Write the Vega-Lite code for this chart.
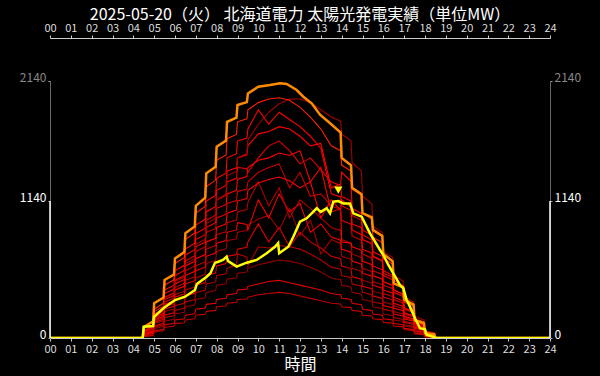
{
  "$schema": "https://vega.github.io/schema/vega-lite/v6.json",
  "width": 500,
  "height": 257,
  "autosize": "none",
  "padding": {"left": 50, "top": 81, "right": 50, "bottom": 38},
  "background": "black",
  "config": {"view": {"stroke": null}, "font": "Noto Sans CJK JP"},
  "title": {"text": "2025-05-20（火） 北海道電力 太陽光発電実績（単位MW）", "color": "white", "fontSize": 16, "fontWeight": "normal", "anchor": "middle", "offset": -1},
  "datasets": {
    "past": [
      {"t":0,"d19":0,"d18":0,"d17":0,"d16":0,"d15":0,"d14":0,"d13":0,"d12":0,"d11":0,"d10":0,"d09":0,"d08":0,"d07":0,"d06":0,"d05":0,"d04":0},
      {"t":4.45,"d19":0,"d18":0,"d17":0,"d16":0,"d15":0,"d14":0,"d13":0,"d12":0,"d11":0,"d10":0,"d09":0,"d08":0,"d07":0,"d06":0,"d05":0,"d04":0},
      {"t":4.5,"d19":60,"d18":40,"d17":50,"d16":45,"d15":40,"d14":40,"d13":35,"d12":30,"d11":30,"d10":25,"d09":25,"d08":20,"d07":20,"d06":15,"d05":12,"d04":10},
      {"t":4.95,"d19":105,"d18":75,"d17":92,"d16":84,"d15":77,"d14":72,"d13":66,"d12":60,"d11":57,"d10":51,"d09":49,"d08":40,"d07":37,"d06":31,"d05":24,"d04":20},
      {"t":5,"d19":240,"d18":180,"d17":220,"d16":200,"d15":190,"d14":170,"d13":160,"d12":150,"d11":140,"d10":130,"d09":120,"d08":100,"d07":90,"d06":80,"d05":60,"d04":50},
      {"t":5.45,"d19":290,"d18":217,"d17":265,"d16":242,"d15":227,"d14":207,"d13":195,"d12":182,"d11":170,"d10":157,"d09":145,"d08":122,"d07":110,"d06":95,"d05":72,"d04":60},
      {"t":5.5,"d19":440,"d18":330,"d17":400,"d16":370,"d15":340,"d14":320,"d13":300,"d12":280,"d11":260,"d10":240,"d09":220,"d08":190,"d07":170,"d06":140,"d05":110,"d04":90},
      {"t":5.95,"d19":485,"d18":365,"d17":440,"d16":407,"d15":375,"d14":352,"d13":330,"d12":310,"d11":285,"d10":265,"d09":242,"d08":210,"d07":185,"d06":155,"d05":120,"d04":97},
      {"t":6,"d19":620,"d18":470,"d17":560,"d16":520,"d15":480,"d14":450,"d13":420,"d12":400,"d11":360,"d10":340,"d09":310,"d08":270,"d07":230,"d06":200,"d05":150,"d04":120},
      {"t":6.45,"d19":670,"d18":507,"d17":605,"d16":562,"d15":520,"d14":487,"d13":455,"d12":430,"d11":390,"d10":367,"d09":332,"d08":290,"d07":247,"d06":215,"d05":160,"d04":127},
      {"t":6.5,"d19":820,"d18":620,"d17":740,"d16":690,"d15":640,"d14":600,"d13":560,"d12":520,"d11":480,"d10":450,"d09":400,"d08":350,"d07":300,"d06":260,"d05":190,"d04":150},
      {"t":6.95,"d19":875,"d18":660,"d17":790,"d16":735,"d15":685,"d14":640,"d13":600,"d12":555,"d11":510,"d10":477,"d09":425,"d08":372,"d07":320,"d06":275,"d05":202,"d04":160},
      {"t":7,"d19":1040,"d18":780,"d17":940,"d16":870,"d15":820,"d14":760,"d13":720,"d12":660,"d11":600,"d10":560,"d09":500,"d08":440,"d07":380,"d06":320,"d05":240,"d04":190},
      {"t":7.45,"d19":1095,"d18":822,"d17":990,"d16":915,"d15":860,"d14":800,"d13":760,"d12":695,"d11":635,"d10":590,"d09":530,"d08":460,"d07":397,"d06":335,"d05":250,"d04":197},
      {"t":7.5,"d19":1260,"d18":950,"d17":1140,"d16":1050,"d15":980,"d14":920,"d13":880,"d12":800,"d11":740,"d10":680,"d09":620,"d08":520,"d07":450,"d06":380,"d05":280,"d04":220},
      {"t":7.95,"d19":1315,"d18":1000,"d17":1187,"d16":1095,"d15":1022,"d14":960,"d13":910,"d12":830,"d11":770,"d10":707,"d09":645,"d08":540,"d07":467,"d06":395,"d05":290,"d04":230},
      {"t":8,"d19":1480,"d18":1150,"d17":1330,"d16":1230,"d15":1150,"d14":1080,"d13":1000,"d12":920,"d11":860,"d10":790,"d09":720,"d08":600,"d07":520,"d06":440,"d05":320,"d04":260},
      {"t":8.45,"d19":1525,"d18":1200,"d17":1372,"d16":1270,"d15":1187,"d14":1110,"d13":1030,"d12":950,"d11":885,"d10":812,"d09":742,"d08":620,"d07":535,"d06":452,"d05":330,"d04":267},
      {"t":8.5,"d19":1660,"d18":1350,"d17":1500,"d16":1390,"d15":1300,"d14":1200,"d13":1120,"d12":1040,"d11":960,"d10":880,"d09":810,"d08":680,"d07":580,"d06":490,"d05":360,"d04":290},
      {"t":8.95,"d19":1695,"d18":1387,"d17":1535,"d16":1417,"d15":1330,"d14":1230,"d13":1145,"d12":1065,"d11":982,"d10":900,"d09":827,"d08":695,"d07":610,"d06":502,"d05":370,"d04":297},
      {"t":9,"d19":1800,"d18":1500,"d17":1640,"d16":1500,"d15":1420,"d14":1320,"d13":1220,"d12":1140,"d11":1050,"d10":960,"d09":880,"d08":740,"d07":700,"d06":540,"d05":400,"d04":320},
      {"t":9.45,"d19":1825,"d18":1537,"d17":1665,"d16":1525,"d15":1410,"d14":1345,"d13":1240,"d12":1162,"d11":1070,"d10":945,"d09":895,"d08":755,"d07":675,"d06":550,"d05":407,"d04":325},
      {"t":9.5,"d19":1900,"d18":1650,"d17":1740,"d16":1600,"d15":1380,"d14":1420,"d13":1300,"d12":1230,"d11":1130,"d10":900,"d09":940,"d08":800,"d07":600,"d06":580,"d05":430,"d04":340},
      {"t":10,"d19":1960,"d18":1780,"d17":1900,"d16":1700,"d15":1500,"d14":1480,"d13":1380,"d12":1290,"d11":1300,"d10":1150,"d09":990,"d08":950,"d07":760,"d06":610,"d05":450,"d04":360},
      {"t":10.5,"d19":1990,"d18":1880,"d17":1780,"d16":1720,"d15":1600,"d14":1500,"d13":1420,"d12":1320,"d11":1100,"d10":1000,"d09":1020,"d08":800,"d07":750,"d06":630,"d05":470,"d04":370},
      {"t":11,"d19":2000,"d18":1950,"d17":1880,"d16":1760,"d15":1640,"d14":1540,"d13":1450,"d12":1340,"d11":1250,"d10":1200,"d09":900,"d08":920,"d07":770,"d06":650,"d05":480,"d04":380},
      {"t":11.5,"d19":1980,"d18":1990,"d17":1820,"d16":1740,"d15":1560,"d14":1520,"d13":1250,"d12":1310,"d11":1000,"d10":1050,"d09":1080,"d08":760,"d07":760,"d06":640,"d05":460,"d04":370},
      {"t":12,"d19":1920,"d18":1990,"d17":1760,"d16":1680,"d15":1450,"d14":1560,"d13":1380,"d12":1250,"d11":1150,"d10":1120,"d09":850,"d08":880,"d07":740,"d06":620,"d05":440,"d04":350},
      {"t":12.5,"d19":1840,"d18":1960,"d17":1680,"d16":1600,"d15":1500,"d14":1300,"d13":1180,"d12":1300,"d11":1080,"d10":880,"d09":980,"d08":800,"d07":700,"d06":590,"d05":420,"d04":330},
      {"t":13,"d19":1740,"d18":1900,"d17":1580,"d16":1620,"d15":1400,"d14":1420,"d13":1200,"d12":1000,"d11":1000,"d10":950,"d09":700,"d08":750,"d07":650,"d06":550,"d05":400,"d04":310},
      {"t":13.5,"d19":1600,"d18":1840,"d17":1200,"d16":1250,"d15":1300,"d14":1050,"d13":1100,"d12":1150,"d11":920,"d10":840,"d09":820,"d08":680,"d07":590,"d06":500,"d05":370,"d04":290},
      {"t":13.95,"d19":1560,"d18":1805,"d17":1175,"d16":1282,"d15":1270,"d14":1075,"d13":1070,"d12":1063,"d11":895,"d10":815,"d09":785,"d08":660,"d07":573,"d06":485,"d05":360,"d04":283},
      {"t":14,"d19":1440,"d18":1700,"d17":1100,"d16":1380,"d15":1180,"d14":1150,"d13":980,"d12":800,"d11":820,"d10":740,"d09":680,"d08":600,"d07":520,"d06":440,"d05":330,"d04":260},
      {"t":14.45,"d19":1390,"d18":1640,"d17":1063,"d16":1305,"d15":1140,"d14":1088,"d13":948,"d12":790,"d11":790,"d10":715,"d09":655,"d08":578,"d07":503,"d06":425,"d05":320,"d04":253},
      {"t":14.5,"d19":1240,"d18":1460,"d17":950,"d16":1080,"d15":1020,"d14":900,"d13":850,"d12":760,"d11":700,"d10":640,"d09":580,"d08":510,"d07":450,"d06":380,"d05":290,"d04":230},
      {"t":14.95,"d19":1190,"d18":1390,"d17":918,"d16":1035,"d15":980,"d14":860,"d13":813,"d12":730,"d11":670,"d10":615,"d09":555,"d08":490,"d07":433,"d06":365,"d05":278,"d04":220},
      {"t":15,"d19":1040,"d18":1180,"d17":820,"d16":900,"d15":860,"d14":740,"d13":700,"d12":640,"d11":580,"d10":540,"d09":480,"d08":430,"d07":380,"d06":320,"d05":240,"d04":190},
      {"t":15.45,"d19":990,"d18":1118,"d17":785,"d16":855,"d15":815,"d14":705,"d13":665,"d12":610,"d11":553,"d10":515,"d09":458,"d08":410,"d07":360,"d06":305,"d05":230,"d04":183},
      {"t":15.5,"d19":840,"d18":930,"d17":680,"d16":720,"d15":680,"d14":600,"d13":560,"d12":520,"d11":470,"d10":440,"d09":390,"d08":350,"d07":300,"d06":260,"d05":200,"d04":160},
      {"t":15.95,"d19":795,"d18":878,"d17":645,"d16":680,"d15":640,"d14":568,"d13":530,"d12":490,"d11":445,"d10":415,"d09":368,"d08":330,"d07":285,"d06":245,"d05":190,"d04":153},
      {"t":16,"d19":660,"d18":720,"d17":540,"d16":560,"d15":520,"d14":470,"d13":440,"d12":400,"d11":370,"d10":340,"d09":300,"d08":270,"d07":240,"d06":200,"d05":160,"d04":130},
      {"t":16.45,"d19":615,"d18":670,"d17":505,"d16":520,"d15":485,"d14":438,"d13":410,"d12":373,"d11":345,"d10":318,"d09":280,"d08":253,"d07":223,"d06":188,"d05":150,"d04":123},
      {"t":16.5,"d19":480,"d18":520,"d17":400,"d16":400,"d15":380,"d14":340,"d13":320,"d12":290,"d11":270,"d10":250,"d09":220,"d08":200,"d07":170,"d06":150,"d05":120,"d04":100},
      {"t":16.95,"d19":435,"d18":475,"d17":363,"d16":363,"d15":345,"d14":308,"d13":290,"d12":263,"d11":245,"d10":228,"d09":200,"d08":183,"d07":155,"d06":138,"d05":110,"d04":93},
      {"t":17,"d19":300,"d18":340,"d17":250,"d16":250,"d15":240,"d14":210,"d13":200,"d12":180,"d11":170,"d10":160,"d09":140,"d08":130,"d07":110,"d06":100,"d05":80,"d04":70},
      {"t":17.45,"d19":265,"d18":300,"d17":220,"d16":220,"d15":210,"d14":185,"d13":175,"d12":158,"d11":150,"d10":140,"d09":123,"d08":113,"d07":96,"d06":88,"d05":70,"d04":61},
      {"t":17.5,"d19":160,"d18":180,"d17":130,"d16":130,"d15":120,"d14":110,"d13":100,"d12":90,"d11":90,"d10":80,"d09":70,"d08":60,"d07":55,"d06":50,"d05":40,"d04":35},
      {"t":17.95,"d19":133,"d18":150,"d17":108,"d16":108,"d15":99,"d14":90,"d13":83,"d12":74,"d11":74,"d10":65,"d09":58,"d08":49,"d07":45,"d06":41,"d05":33,"d04":28},
      {"t":18,"d19":50,"d18":60,"d17":40,"d16":40,"d15":35,"d14":30,"d13":30,"d12":25,"d11":25,"d10":20,"d09":20,"d08":15,"d07":15,"d06":12,"d05":10,"d04":8},
      {"t":18.45,"d19":38,"d18":45,"d17":30,"d16":30,"d15":26,"d14":23,"d13":23,"d12":19,"d11":19,"d10":15,"d09":15,"d08":11,"d07":11,"d06":9,"d05":8,"d04":6},
      {"t":18.5,"d19":0,"d18":0,"d17":0,"d16":0,"d15":0,"d14":0,"d13":0,"d12":0,"d11":0,"d10":0,"d09":0,"d08":0,"d07":0,"d06":0,"d05":0,"d04":0},
      {"t":24,"d19":0,"d18":0,"d17":0,"d16":0,"d15":0,"d14":0,"d13":0,"d12":0,"d11":0,"d10":0,"d09":0,"d08":0,"d07":0,"d06":0,"d05":0,"d04":0}
    ],
    "record": [
      {"t":0,"v":0},{"t":4.45,"v":0},{"t":4.5,"v":90},{"t":4.95,"v":140},{"t":5.0,"v":289},{"t":5.45,"v":337},{"t":5.5,"v":483},{"t":5.95,"v":528},{"t":6.0,"v":663},{"t":6.45,"v":715},{"t":6.5,"v":872},{"t":6.95,"v":929},{"t":7.0,"v":1100},{"t":7.45,"v":1168},{"t":7.5,"v":1371},{"t":7.95,"v":1426},{"t":8.0,"v":1593},{"t":8.45,"v":1645},{"t":8.5,"v":1800},{"t":8.95,"v":1835},{"t":9.0,"v":1940},{"t":9.45,"v":1964},{"t":9.5,"v":2037},{"t":10.0,"v":2093},{"t":10.56,"v":2107},{"t":11.04,"v":2121},{"t":11.36,"v":2115},{"t":11.84,"v":2065},{"t":12.16,"v":2009},{"t":12.56,"v":1954},{"t":12.96,"v":1860},{"t":13.36,"v":1801},{"t":13.5,"v":1780},{"t":13.95,"v":1710},{"t":14.0,"v":1500},{"t":14.45,"v":1438},{"t":14.5,"v":1250},{"t":14.95,"v":1198},{"t":15.0,"v":1040},{"t":15.45,"v":1005},{"t":15.5,"v":900},{"t":15.95,"v":850},{"t":16.0,"v":700},{"t":16.45,"v":639},{"t":16.5,"v":455},{"t":16.95,"v":421},{"t":17.0,"v":320},{"t":17.45,"v":278},{"t":17.5,"v":150},{"t":17.95,"v":123},{"t":18.0,"v":40},{"t":18.45,"v":30},{"t":18.5,"v":0},{"t":24,"v":0}
    ],
    "today": [
      {"t":0,"v":0},{"t":4.45,"v":0},{"t":4.5,"v":94},{"t":4.95,"v":100},{"t":5.0,"v":177},{"t":5.44,"v":247},{"t":6.0,"v":316},{"t":6.48,"v":344},{"t":6.96,"v":400},{"t":7.05,"v":450},{"t":7.52,"v":510},{"t":7.7,"v":540},{"t":7.92,"v":627},{"t":8.08,"v":635},{"t":8.3,"v":650},{"t":8.48,"v":677},{"t":8.55,"v":640},{"t":8.96,"v":594},{"t":9.44,"v":627},{"t":9.92,"v":650},{"t":10.4,"v":705},{"t":10.8,"v":760},{"t":10.95,"v":790},{"t":11.0,"v":705},{"t":11.44,"v":760},{"t":11.68,"v":843},{"t":12.0,"v":968},{"t":12.32,"v":997},{"t":12.56,"v":1038},{"t":12.8,"v":1080},{"t":13.0,"v":1050},{"t":13.28,"v":1080},{"t":13.44,"v":1038},{"t":13.6,"v":1135},{"t":13.84,"v":1140},{"t":14.08,"v":1121},{"t":14.4,"v":1121},{"t":14.56,"v":1038},{"t":14.96,"v":1010},{"t":15.36,"v":872},{"t":15.84,"v":733},{"t":16.0,"v":691},{"t":16.24,"v":608},{"t":16.48,"v":539},{"t":16.8,"v":441},{"t":16.96,"v":414},{"t":17.12,"v":316},{"t":17.28,"v":261},{"t":17.52,"v":164},{"t":17.76,"v":81},{"t":18.0,"v":72},{"t":18.08,"v":25},{"t":18.4,"v":11},{"t":18.5,"v":0},{"t":24,"v":0}
    ],
    "edge": [{"t":0,"v":1140},{"t":24,"v":1140}]
  },
  "resolve": {"axis": {"x": "independent", "y": "independent"}},
  "layer": [
    {
      "data": {"name": "past"},
      "transform": [{"fold": ["d04","d05","d06","d07","d08","d09","d10","d11","d12","d13","d14","d15","d16","d17","d18","d19"], "as": ["day","v"]}],
      "mark": {"type": "line", "strokeWidth": 1.1, "clip": true},
      "encoding": {
        "x": {"field": "t", "type": "quantitative", "scale": {"domain": [0, 24], "nice": false},
              "axis": {"orient": "bottom", "values": [0,1,2,3,4,5,6,7,8,9,10,11,12,13,14,15,16,17,18,19,20,21,22,23,24], "format": "02d", "labelFlush": false, "labelOverlap": false, "labelColor": "#dddddd", "labelFontSize": 11, "labelPadding": 2, "domainColor": "#cccccc", "tickColor": "#cccccc", "tickSize": 3, "grid": false, "title": "時間", "titleColor": "white", "titleFontSize": 16, "titleFontWeight": "normal", "titlePadding": 2}},
        "y": {"field": "v", "type": "quantitative", "scale": {"domain": [0, 2140], "nice": false},
              "axis": {"orient": "left", "values": [0, 1140, 2140], "format": "d", "grid": false, "title": null, "domainColor": "#666666", "tickColor": "#aaaaaa", "tickSize": 2, "labelFontSize": 12, "labelOffset": -4, "labelPadding": 2, "labelColor": {"condition": {"test": "datum.value > 1140", "value": "#888888"}, "value": "white"}}},
        "color": {"field": "day", "type": "nominal", "legend": null,
                  "scale": {"domain": ["d19","d18","d17","d16","d15","d14","d13","d12","d11","d10","d09","d08","d07","d06","d05","d04"],
                            "range": ["#ff2000","#a00000","#ff0000","#ff0000","#e80000","#ff0000","#cc0000","#ff0000","#b40000","#f00000","#a00000","#dd0000","#b00000","#900000","#e00000","#c00000"]}},
        "detail": {"field": "day"}
      }
    },
    {
      "data": {"name": "record"},
      "mark": {"type": "line", "strokeWidth": 2.5, "color": "#ff8c00", "clip": true},
      "encoding": {
        "x": {"field": "t", "type": "quantitative",
              "axis": {"orient": "top", "offset": 43, "values": [0,1,2,3,4,5,6,7,8,9,10,11,12,13,14,15,16,17,18,19,20,21,22,23,24], "format": "02d", "labelFlush": false, "labelOverlap": false, "labelColor": "#dddddd", "labelFontSize": 11, "labelPadding": 2, "domainColor": "#cccccc", "tickColor": "#cccccc", "tickSize": 3, "grid": false, "title": null}},
        "y": {"field": "v", "type": "quantitative",
              "axis": {"orient": "right", "values": [0, 1140, 2140], "format": "d", "grid": false, "title": null, "domainColor": "#666666", "tickColor": "#aaaaaa", "tickSize": 2, "labelFontSize": 12, "labelOffset": -4, "labelPadding": 2, "labelColor": {"condition": {"test": "datum.value > 1140", "value": "#888888"}, "value": "white"}}}
      }
    },
    {
      "data": {"name": "today"},
      "mark": {"type": "line", "strokeWidth": 2.5, "color": "#ffff00", "clip": true},
      "encoding": {
        "x": {"field": "t", "type": "quantitative", "axis": null},
        "y": {"field": "v", "type": "quantitative", "axis": null}
      }
    },
    {
      "data": {"name": "today"},
      "transform": [{"joinaggregate": [{"op": "max", "field": "v", "as": "mx"}]}, {"filter": "datum.v == datum.mx"}],
      "mark": {"type": "point", "shape": "triangle-down", "filled": true, "color": "#ffff00", "opacity": 1, "size": 70, "yOffset": -11},
      "encoding": {
        "x": {"field": "t", "type": "quantitative", "axis": null},
        "y": {"field": "v", "type": "quantitative", "axis": null}
      }
    },
    {
      "data": {"name": "edge"},
      "mark": {"type": "rule", "color": "white", "strokeWidth": 1.5},
      "encoding": {
        "x": {"field": "t", "type": "quantitative", "axis": null},
        "y": {"field": "v", "type": "quantitative", "axis": null},
        "y2": {"datum": 0}
      }
    }
  ]
}
